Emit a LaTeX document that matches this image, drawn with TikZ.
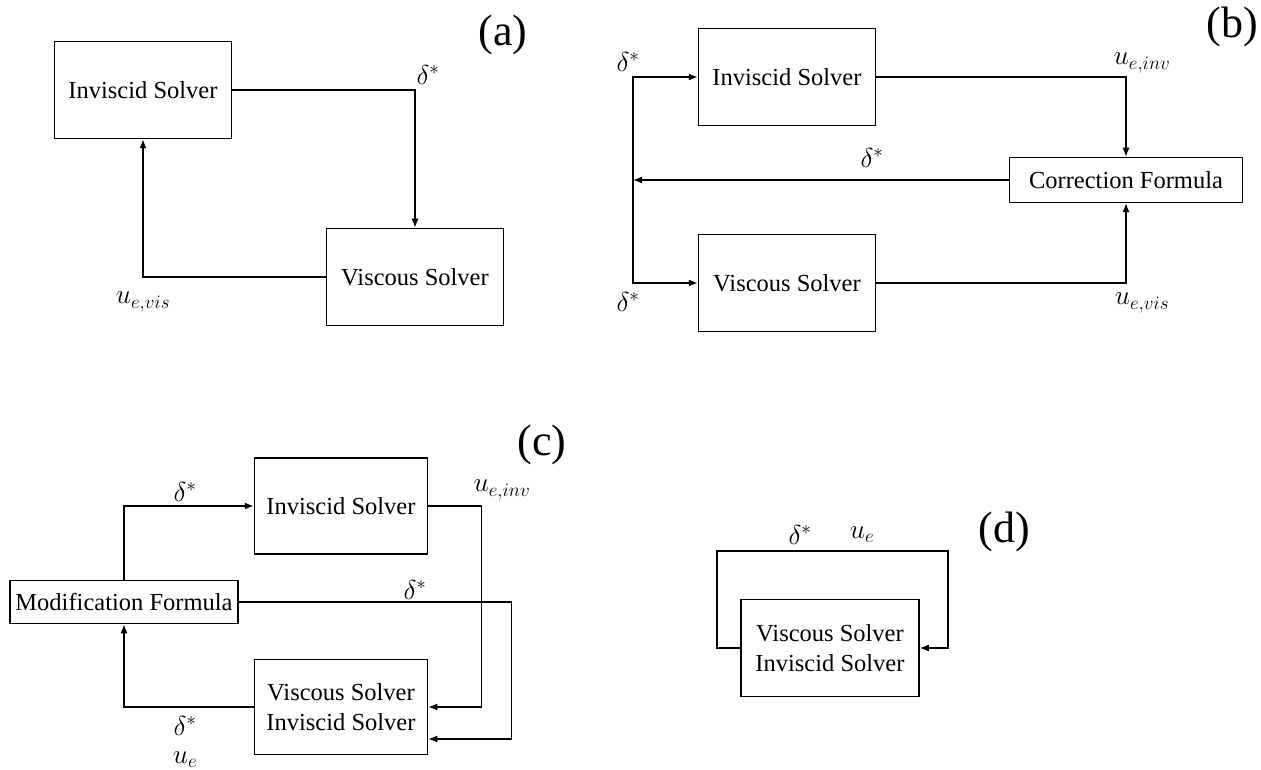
\documentclass[tikz,border=0pt]{standalone}
\usepackage{fontspec}
\setmainfont{Liberation Serif}
\usetikzlibrary{arrows.meta,calc}
\begin{document}
\begin{tikzpicture}[x=1pt,y=-1pt,
  box/.style={draw,line width=1.5pt,inner sep=0pt,align=center,
              font=\fontsize{24.5}{30}\selectfont},
  arr/.style={line width=1.3pt,-{Latex[length=9pt,width=7pt]}},
  lab/.style={inner sep=0pt,scale=1.1,font=\fontsize{24}{28}\selectfont},
  tag/.style={inner sep=0pt,font=\fontsize{44}{48}\selectfont}]
\fill[white] (0,0) rectangle (1261,770);

% ---- (a) ----
\node[box,minimum width=177pt,minimum height=97pt] (ainv) at (143,90) {Inviscid Solver};
\node[box,minimum width=177pt,minimum height=97pt] (avis) at (415,277) {Viscous Solver};
\draw[arr] (ainv.east) -| (avis.north);
\draw[arr] (avis.west) -| (ainv.south);
\node[lab] (ad) at (428,75) {$\delta^*$};
\node[lab] (au) at (143,302) {$u_{e,vis}$};
\node[tag] (ta) at (503,35) {(a)};

% ---- (b) ----
\node[box,minimum width=177pt,minimum height=97pt] (binv) at (787,77) {Inviscid Solver};
\node[box,minimum width=177pt,minimum height=97pt] (bvis) at (787,283) {Viscous Solver};
\node[box,minimum width=233pt,minimum height=45pt] (bcor) at (1126,180) {Correction Formula};
\coordinate (bsplit) at (633,180);
\draw[arr] (binv.east) -| (bcor.north);
\draw[arr] (bvis.east) -| (bcor.south);
\draw[arr] (bcor.west) -- (bsplit);
\draw[arr] (bsplit) |- (binv.west);
\draw[arr] (bsplit) |- (bvis.west);
\node[lab] (bd1) at (628,62) {$\delta^*$};
\node[lab] (bd2) at (628,302) {$\delta^*$};
\node[lab] (bd3) at (872,158) {$\delta^*$};
\node[lab] (bu1) at (1142,63) {$u_{e,inv}$};
\node[lab] (bu2) at (1142,303) {$u_{e,vis}$};
\node[tag] (tb) at (1232,27) {(b)};

% ---- (c) ----
\node[box,minimum width=173pt,minimum height=96pt] (cinv) at (341,506) {Inviscid Solver};
\node[box,minimum width=173pt,minimum height=95pt] (cvv) at (341,707) {Viscous Solver\\Inviscid Solver};
\node[box,minimum width=228pt,minimum height=43pt] (cmod) at (124,602) {Modification Formula};
\coordinate (cr1) at ($(cvv.east)+(53,0)$);
\coordinate (cr2) at ($(cvv.east)+(83,32)$);
\coordinate (cin2) at ($(cvv.east)+(0,32)$);
\draw[arr] (cmod.north) |- (cinv.west);
\draw[arr] (cinv.east) -| (cr1) -- (cvv.east);
\draw[arr] (cmod.east) -| (cr2) -- (cin2);
\draw[arr] (cvv.west) -| (cmod.south);
\node[lab] (cd1) at (185,492) {$\delta^*$};
\node[lab] (cu1) at (502,490) {$u_{e,inv}$};
\node[lab] (cd2) at (415,590) {$\delta^*$};
\node[lab] (cd3) at (185,726) {$\delta^*$};
\node[lab] (cu2) at (185,760) {$u_e$};
\node[tag] (tc) at (542,445) {(c)};

% ---- (d) ----
\node[box,minimum width=178pt,minimum height=97pt] (dbox) at (830,648) {Viscous Solver\\Inviscid Solver};
\coordinate (dl) at (717,551);
\coordinate (dr) at (948,551);
\draw[arr] (dbox.west) -| (dl) -- (dr) |- (dbox.east);
\node[lab] (dd) at (800,535) {$\delta^*$};
\node[lab] (du) at (862,535) {$u_e$};
\node[tag] (td) at (1004,532) {(d)};
\end{tikzpicture}
\end{document}
